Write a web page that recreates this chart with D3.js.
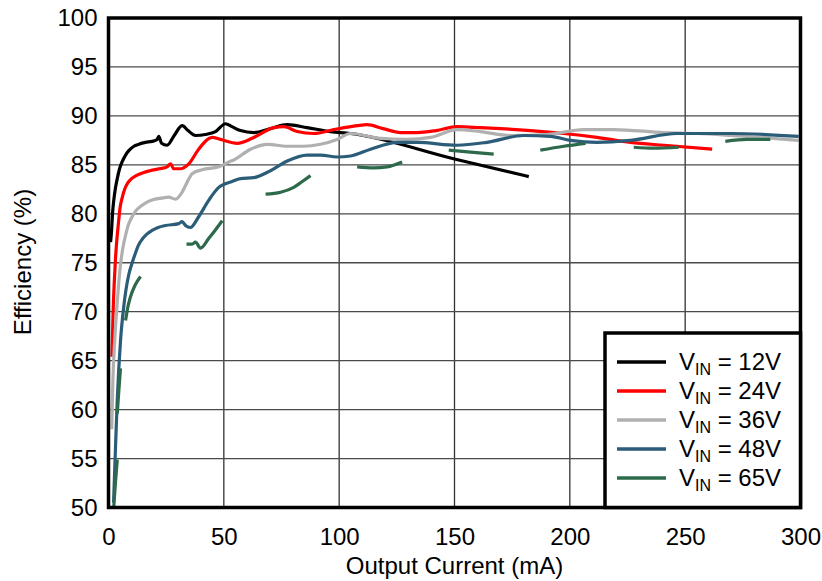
<!DOCTYPE html>
<html>
<head>
<meta charset="utf-8">
<script src="https://cdn.jsdelivr.net/npm/d3@7"></script>
<style>
  body { margin: 0; background: #fff; }
  svg { display: block; font-family: "Liberation Sans", Arial, Helvetica, sans-serif; }
</style>
</head>
<body>
<svg id="chart" width="822" height="581"></svg>
<script>
// output current (mA) / efficiency (%) per input voltage
const i12 = [0.9, 1.3, 1.8, 2.3, 3, 3.8, 4.8, 5.9, 7.4, 9, 11, 13.1, 16, 18.9, 21.1, 21.8, 23, 25.4, 28.5, 31.9, 34.5, 37.7, 42, 46.4, 50.7, 53.5, 57.2, 63, 70.2, 77.5, 86.1, 96.2, 104.9, 150, 182.2];
const eff12 = [77.1, 78.2, 80.2, 81.4, 82.6, 83.6, 84.6, 85.3, 86.0, 86.5, 86.9, 87.1, 87.3, 87.4, 87.6, 87.9, 87.2, 87.0, 88.0, 89.0, 88.5, 88.0, 88.1, 88.4, 89.2, 88.9, 88.5, 88.3, 88.7, 89.1, 88.8, 88.4, 88.2, 85.6, 83.8];

const i24 = [1.5, 2, 2.5, 3, 3.5, 4.2, 5, 6, 7, 8.5, 10, 12, 15, 18, 22, 25.4, 26.9, 28.3, 31.2, 34.8, 39.1, 44.9, 48.5, 55.8, 63, 71.7, 76, 81.8, 89, 97.7, 107.8, 112.1, 119, 126.6, 133.8, 142, 151.1, 161.2, 182.9, 197.4, 211.8, 226.3, 240.7, 261.7];
const eff24 = [65.4, 70, 73, 75.3, 77, 78.8, 80.6, 81.7, 82.5, 83.2, 83.6, 83.9, 84.2, 84.4, 84.6, 84.8, 85.1, 84.6, 84.6, 85.1, 86.6, 87.8, 87.6, 87.2, 87.8, 88.8, 88.9, 88.4, 88.2, 88.6, 89.0, 89.1, 88.7, 88.3, 88.3, 88.5, 88.9, 88.8, 88.5, 88.2, 87.8, 87.3, 87.0, 86.6];

const i36 = [1.4, 1.9, 2.7, 3.8, 5.2, 6.3, 7.4, 8.5, 10, 11.5, 13.1, 16, 18.9, 23, 26.1, 29, 31.9, 33.4, 36.3, 40.6, 47.8, 52.2, 54.3, 61.6, 68.8, 77.5, 84.7, 91.9, 99.1, 104.9, 117.9, 129.5, 139.6, 151.1, 161.2, 174.3, 190.1, 206, 219, 240.7, 255.2, 269.9, 299.2];
const eff36 = [58, 63, 67.1, 71, 74.8, 76.6, 77.8, 78.8, 79.6, 80.2, 80.6, 81.1, 81.4, 81.6, 81.7, 81.5, 82.2, 82.9, 84.1, 84.5, 84.8, 85.3, 85.5, 86.6, 87.1, 86.9, 86.9, 87.1, 87.6, 88.2, 87.7, 87.6, 87.8, 88.6, 88.4, 88.0, 88.1, 88.6, 88.6, 88.3, 88.2, 88.0, 87.5];

const i48 = [2.2, 3, 3.8, 5.2, 6.6, 8.8, 10, 11.7, 13, 14.6, 16.5, 18.9, 21.5, 24.7, 30.5, 31.9, 33.4, 35.5, 39.1, 43.5, 47.8, 53.6, 57.2, 63, 70.2, 77.5, 86.1, 91.9, 99.1, 104.9, 113.6, 125.2, 133.8, 151.1, 164.1, 180.1, 191.6, 200.3, 211.8, 226.3, 246.5, 269.9, 299.2];
const eff48 = [50.5, 55.9, 61, 67, 70.5, 73.8, 74.8, 76.0, 76.8, 77.4, 77.9, 78.3, 78.6, 78.8, 79.0, 79.2, 78.8, 78.6, 79.7, 81.4, 82.7, 83.3, 83.6, 83.7, 84.4, 85.4, 86.0, 86.0, 85.8, 85.9, 86.6, 87.3, 87.3, 87.0, 87.3, 88.0, 87.9, 87.5, 87.3, 87.5, 88.2, 88.2, 87.9];

// 65V is only drawn in pieces; null marks a gap
const i65 = [2.3, 3.0, 3.8, null, 3.8, 4.5, 5.2, null, 7.4, 8.5, 9.5, 11.5, 13.9, null,
  33.8, 36.3, 37.7, 39.9, 43.5, 46.5, 49.3, null, 68.1, 74.6, 80.3, 84, 87.6, null,
  107.8, 115, 120.8, 127.3, null, 147.5, 156.9, 167, null, 187.2, 197.4, 206.8, null,
  227.7, 236.4, 247.2, null, 267.4, 276.8, 286.9];
const eff65 = [50.1, 52.5, 54.9, null, 59.6, 62, 64.2, null, 69.1, 70.6, 71.5, 72.7, 73.6, null,
  76.9, 76.9, 77.1, 76.5, 77.5, 78.4, 79.3, null, 82.0, 82.2, 82.7, 83.3, 83.9, null,
  84.8, 84.7, 84.8, 85.3, null, 86.5, 86.3, 86.1, null, 86.5, 86.9, 87.2, null,
  86.8, 86.7, 86.8, null, 87.4, 87.6, 87.6];

const seriesNames = ["12V", "24V", "36V", "48V", "65V"];
const seriesColors = ["#000000", "#ff0000", "#b0b0b0", "#2b5c78", "#2d6a4c"];
const xTicks = [0, 50, 100, 150, 200, 250, 300];
const yTicks = [50, 55, 60, 65, 70, 75, 80, 85, 90, 95, 100];

const series = [[i12, eff12], [i24, eff24], [i36, eff36], [i48, eff48], [i65, eff65]]
  .map(([xs, ys], k) => ({
    name: seriesNames[k],
    color: seriesColors[k],
    points: xs.map((x, j) => ({ x: x, y: ys[j] }))
  }));

const plotLeft = 108.5, plotRight = 800.5, plotTop = 18, plotBottom = 507.5;

const svg = d3.select("#chart");

const x = d3.scaleLinear().domain([0, 300]).range([plotLeft, plotRight]);
const y = d3.scaleLinear().domain([50, 100]).range([plotBottom, plotTop]);

// grid
svg.append("g")
  .selectAll("line")
  .data(xTicks.slice(1, -1))
  .join("line")
  .attr("x1", d => x(d)).attr("x2", d => x(d))
  .attr("y1", plotTop).attr("y2", plotBottom)
  .attr("stroke", "#333").attr("stroke-width", 1.3);

svg.append("g")
  .selectAll("line")
  .data(yTicks.slice(1, -1))
  .join("line")
  .attr("x1", plotLeft).attr("x2", plotRight)
  .attr("y1", d => y(d)).attr("y2", d => y(d))
  .attr("stroke", "#4a4a4a").attr("stroke-width", 1.3);

// axes (labels only, border drawn below)
const xAxis = svg.append("g")
  .attr("transform", `translate(0,${plotBottom})`)
  .call(d3.axisBottom(x).tickValues(xTicks).tickFormat(d => d).tickSize(0).tickPadding(20));
const yAxis = svg.append("g")
  .attr("transform", `translate(${plotLeft},0)`)
  .call(d3.axisLeft(y).tickValues(yTicks).tickFormat(d => d).tickSize(0).tickPadding(11));
[xAxis, yAxis].forEach(a => {
  a.select(".domain").remove();
  a.selectAll("text").attr("font-size", 24).attr("fill", "#000")
    .attr("font-family", "Liberation Sans, Arial, sans-serif");
});

// curves
svg.append("clipPath").attr("id", "plot")
  .append("rect")
  .attr("x", plotLeft).attr("y", plotTop)
  .attr("width", plotRight - plotLeft).attr("height", plotBottom - plotTop);

const line = d3.line()
  .defined(d => d.x !== null && d.y !== null)
  .x(d => x(d.x))
  .y(d => y(d.y))
  .curve(d3.curveMonotoneX);

svg.append("g")
  .attr("clip-path", "url(#plot)")
  .selectAll("path")
  .data(series)
  .join("path")
  .attr("d", d => line(d.points))
  .attr("fill", "none")
  .attr("stroke", d => d.color)
  .attr("stroke-width", 3.2)
  .attr("stroke-linejoin", "round");

// plot border
svg.append("rect")
  .attr("x", plotLeft).attr("y", plotTop)
  .attr("width", plotRight - plotLeft).attr("height", plotBottom - plotTop)
  .attr("fill", "none").attr("stroke", "#000").attr("stroke-width", 3.5);

// axis titles
svg.append("text")
  .attr("x", (plotLeft + plotRight) / 2).attr("y", 574)
  .attr("text-anchor", "middle").attr("font-size", 24)
  .text("Output Current (mA)");

svg.append("text")
  .attr("transform", "translate(31,262) rotate(-90)")
  .attr("text-anchor", "middle").attr("font-size", 24)
  .text("Efficiency (%)");

// legend
const legend = svg.append("g");
legend.append("rect")
  .attr("x", 605).attr("y", 333)
  .attr("width", plotRight - 605).attr("height", plotBottom - 333)
  .attr("fill", "#fff").attr("stroke", "#000").attr("stroke-width", 3.5);

const item = legend.selectAll("g")
  .data(series)
  .join("g")
  .attr("transform", (d, k) => `translate(0,${362 + k * 29})`);

item.append("line")
  .attr("x1", 617).attr("x2", 666)
  .attr("stroke", d => d.color).attr("stroke-width", 3.4);

const label = item.append("text")
  .attr("x", 679).attr("y", 8)
  .attr("font-size", 24);
label.append("tspan").text("V");
label.append("tspan").attr("font-size", 16).attr("dy", 5).text("IN");
label.append("tspan").attr("dy", -5).text(d => " = " + d.name);
</script>
</body>
</html>
